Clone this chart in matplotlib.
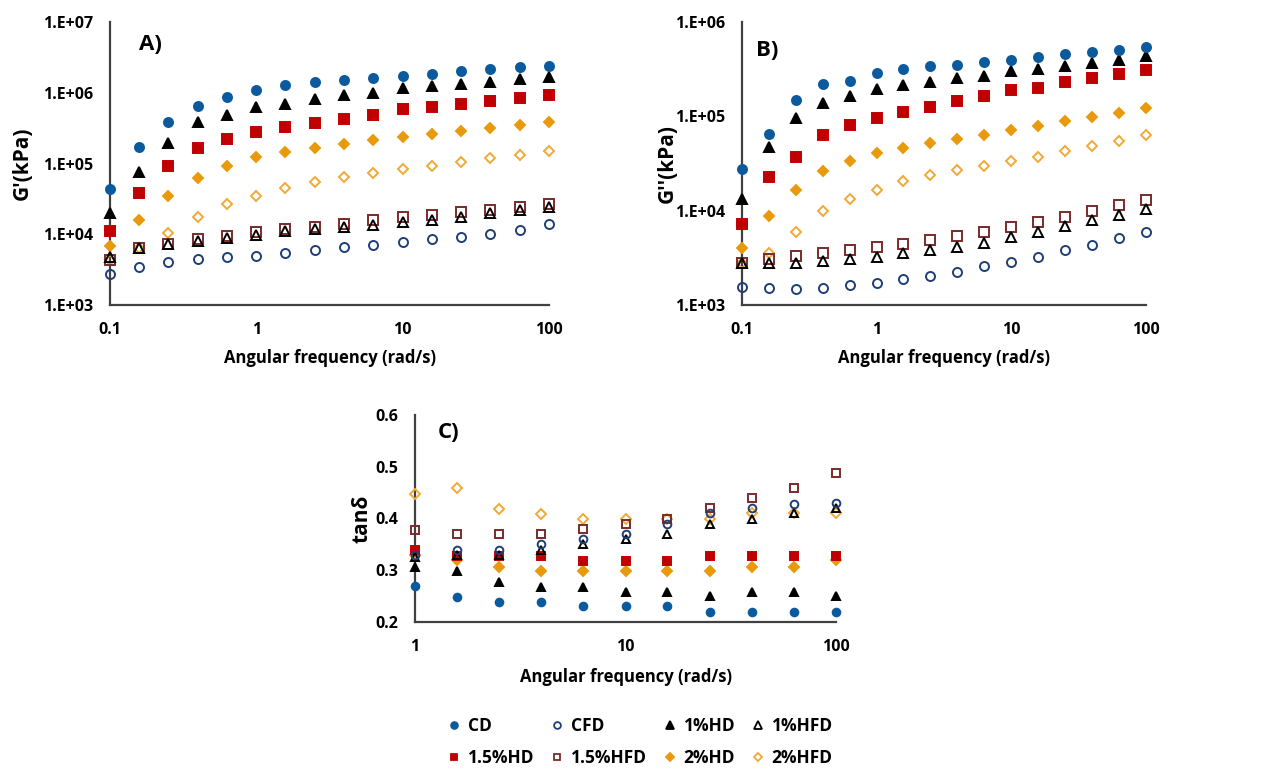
import matplotlib
matplotlib.use("Agg")
import matplotlib.pyplot as plt
from matplotlib.lines import Line2D

plt.rcParams['font.family'] = ['Open Sans', 'DejaVu Sans']
plt.rcParams['font.weight'] = 'bold'

# angular frequency (rad/s)
freq = [0.1, 0.158, 0.251, 0.398, 0.631, 1, 1.58, 2.51, 3.98, 6.31,
        10, 15.8, 25.1, 39.8, 63.1, 100]
freq_c = [1, 1.58, 2.51, 3.98, 6.31, 10, 15.8, 25.1, 39.8, 63.1, 100]

# A) G' (kPa)
g1_cd = [4.3e4, 1.7e5, 3.9e5, 6.4e5, 8.7e5, 1.08e6, 1.29e6, 1.42e6, 1.49e6, 1.62e6,
         1.75e6, 1.84e6, 2.03e6, 2.19e6, 2.29e6, 2.42e6]
g1_cfd = [2.7e3, 3.5e3, 4.0e3, 4.4e3, 4.8e3, 5.0e3, 5.4e3, 5.9e3, 6.5e3, 7.0e3,
          7.7e3, 8.5e3, 9.2e3, 1.0e4, 1.15e4, 1.38e4]
g1_hd1 = [1.97e4, 7.7e4, 1.96e5, 3.8e5, 4.9e5, 6.2e5, 6.96e5, 8.1e5, 9.4e5, 9.95e5,
          1.16e6, 1.24e6, 1.35e6, 1.44e6, 1.55e6, 1.67e6]
g1_hfd1 = [4.8e3, 6.3e3, 7.2e3, 8.1e3, 8.9e3, 9.8e3, 1.1e4, 1.17e4, 1.28e4, 1.35e4,
           1.5e4, 1.58e4, 1.73e4, 1.97e4, 2.2e4, 2.44e4]
g1_hd15 = [1.12e4, 3.77e4, 9.2e4, 1.63e5, 2.23e5, 2.77e5, 3.3e5, 3.75e5, 4.3e5, 4.86e5,
           5.9e5, 6.2e5, 6.96e5, 7.7e5, 8.4e5, 9.4e5]
g1_hfd15 = [4.3e3, 6.3e3, 7.4e3, 8.5e3, 9.5e3, 1.08e4, 1.2e4, 1.28e4, 1.41e4, 1.57e4,
            1.73e4, 1.87e4, 2.06e4, 2.22e4, 2.44e4, 2.64e4]
g1_hd2 = [6.9e3, 1.58e4, 3.5e4, 6.2e4, 9.3e4, 1.22e5, 1.45e5, 1.68e5, 1.9e5, 2.16e5,
          2.38e5, 2.59e5, 2.92e5, 3.2e5, 3.5e5, 3.8e5]
g1_hfd2 = [4.3e3, 6.3e3, 1.03e4, 1.73e4, 2.7e4, 3.5e4, 4.5e4, 5.4e4, 6.4e4, 7.3e4,
           8.4e4, 9.3e4, 1.04e5, 1.2e5, 1.31e5, 1.49e5]

# B) G'' (kPa)
g2_cd = [2.75e4, 6.5e4, 1.49e5, 2.2e5, 2.37e5, 2.9e5, 3.2e5, 3.42e5, 3.53e5, 3.77e5,
         4.0e5, 4.3e5, 4.6e5, 4.8e5, 5.1e5, 5.4e5]
g2_cfd = [1.56e3, 1.51e3, 1.47e3, 1.51e3, 1.61e3, 1.72e3, 1.9e3, 2.03e3, 2.23e3, 2.56e3,
          2.83e3, 3.22e3, 3.79e3, 4.32e3, 5.12e3, 6.0e3]
g2_hd1 = [1.32e4, 4.7e4, 9.5e4, 1.39e5, 1.64e5, 1.95e5, 2.15e5, 2.32e5, 2.53e5, 2.7e5,
          3.0e5, 3.2e5, 3.42e5, 3.68e5, 3.93e5, 4.33e5]
g2_hfd1 = [2.76e3, 2.8e3, 2.76e3, 2.9e3, 3.04e3, 3.25e3, 3.52e3, 3.79e3, 4.14e3, 4.57e3,
           5.29e3, 6.0e3, 6.86e3, 7.9e3, 8.97e3, 1.05e4]
g2_hd15 = [7.3e3, 2.27e4, 3.7e4, 6.4e4, 8.0e4, 9.7e4, 1.1e5, 1.27e5, 1.44e5, 1.64e5,
           1.89e5, 2.02e5, 2.32e5, 2.53e5, 2.8e5, 3.1e5]
g2_hfd15 = [2.76e3, 3.04e3, 3.33e3, 3.58e3, 3.82e3, 4.07e3, 4.46e3, 4.87e3, 5.33e3, 5.87e3,
            6.7e3, 7.6e3, 8.5e3, 1.0e4, 1.15e4, 1.29e4]
g2_hd2 = [3.98e3, 8.75e3, 1.65e4, 2.62e4, 3.4e4, 4.04e4, 4.6e4, 5.2e4, 5.8e4, 6.4e4,
          7.1e4, 7.9e4, 8.95e4, 9.9e4, 1.09e5, 1.24e5]
g2_hfd2 = [2.76e3, 3.6e3, 5.9e3, 1.0e4, 1.34e4, 1.64e4, 2.05e4, 2.36e4, 2.69e4, 2.96e4,
           3.37e4, 3.75e4, 4.27e4, 4.86e4, 5.5e4, 6.3e4]

# C) tan delta
tan_cd = [0.27, 0.248, 0.239, 0.238, 0.23, 0.23, 0.23, 0.22, 0.22, 0.22, 0.22]
tan_cfd = [0.33, 0.34, 0.34, 0.35, 0.36, 0.37, 0.39, 0.41, 0.42, 0.428, 0.429]
tan_hd1 = [0.306, 0.299, 0.278, 0.268, 0.267, 0.258, 0.258, 0.25, 0.258, 0.258, 0.25]
tan_hfd1 = [0.326, 0.33, 0.33, 0.34, 0.35, 0.36, 0.37, 0.39, 0.40, 0.41, 0.42]
tan_hd15 = [0.339, 0.328, 0.328, 0.328, 0.317, 0.317, 0.317, 0.328, 0.328, 0.328, 0.328]
tan_hfd15 = [0.378, 0.37, 0.37, 0.37, 0.379, 0.389, 0.40, 0.42, 0.439, 0.459, 0.488]
tan_hd2 = [0.329, 0.319, 0.307, 0.299, 0.299, 0.299, 0.299, 0.299, 0.307, 0.307, 0.319]
tan_hfd2 = [0.448, 0.459, 0.419, 0.409, 0.399, 0.40, 0.40, 0.40, 0.41, 0.41, 0.41]

names = ['CD', 'CFD', '1%HD', '1%HFD', '1.5%HD', '1.5%HFD', '2%HD', '2%HFD']

BLUE = '#0b5a9e'
NAVY = '#1f3f78'
RED = '#c00000'
BROWN = '#7a2b2b'
ORANGE = '#e89a0c'
LORANGE = '#f0aa35'

# marker, face, edge
styles = {
    'CD': ('o', BLUE, BLUE),
    'CFD': ('o', 'none', NAVY),
    '1%HD': ('^', 'black', 'black'),
    '1%HFD': ('^', 'none', 'black'),
    '1.5%HD': ('s', RED, RED),
    '1.5%HFD': ('s', 'none', BROWN),
    '2%HD': ('D', ORANGE, ORANGE),
    '2%HFD': ('D', 'none', LORANGE),
}
draw_order = ['2%HFD', '2%HD', '1.5%HFD', '1.5%HD', '1%HFD', '1%HD', 'CFD', 'CD']
msize = {'o': 6.5, '^': 7, 's': 6.5, 'D': 5.5}


def plot_panel(ax, x, series, ms_scale=1.0):
    for nm in draw_order:
        m, fc, ec = styles[nm]
        ax.plot(x, series[nm], linestyle='none', marker=m, markersize=msize[m] * ms_scale,
                markerfacecolor=fc, markeredgecolor=ec, markeredgewidth=1.4,
                clip_on=False, zorder=3)


def style_axes(ax):
    for s in ['top', 'right']:
        ax.spines[s].set_visible(False)
    for s in ['left', 'bottom']:
        ax.spines[s].set_color('#404040')
        ax.spines[s].set_linewidth(1.6)
    ax.tick_params(length=0, labelsize=11.5, pad=12)
    ax.minorticks_off()
    for lab in ax.get_xticklabels() + ax.get_yticklabels():
        lab.set_fontweight('bold')


fig = plt.figure(figsize=(12.7, 7.71), dpi=100)

xt = [0.1, 1, 10, 100]
xtl = ['0.1', '1', '10', '100']

# panel A
axA = fig.add_axes([110 / 1270, 1 - 305 / 771, 439 / 1270, 283 / 771])
plot_panel(axA, freq, dict(zip(names, [g1_cd, g1_cfd, g1_hd1, g1_hfd1,
                                         g1_hd15, g1_hfd15, g1_hd2, g1_hfd2])))
axA.set_xscale('log')
axA.set_yscale('log')
axA.set_xlim(0.1, 100)
axA.set_ylim(1e3, 1e7)
yt = [1e3, 1e4, 1e5, 1e6, 1e7]
axA.set_xticks(xt, xtl)
axA.set_yticks(yt, ['1.E+03', '1.E+04', '1.E+05', '1.E+06', '1.E+07'])
style_axes(axA)
axA.set_ylabel("G'(kPa)", fontsize=15, fontweight='bold')
axA.yaxis.set_label_coords(-0.175, 0.5)
axA.set_xlabel('Angular frequency (rad/s)', fontsize=12, fontweight='bold')
axA.xaxis.set_label_coords(0.5, -0.155)
axA.text(0.065, 0.92, 'A)', transform=axA.transAxes, fontsize=16, fontweight='bold',
         va='center', ha='left')

# panel B
axB = fig.add_axes([742 / 1270, 1 - 305 / 771, 404 / 1270, 283 / 771])
plot_panel(axB, freq, dict(zip(names, [g2_cd, g2_cfd, g2_hd1, g2_hfd1,
                                         g2_hd15, g2_hfd15, g2_hd2, g2_hfd2])))
axB.set_xscale('log')
axB.set_yscale('log')
axB.set_xlim(0.1, 100)
axB.set_ylim(1e3, 1e6)
axB.set_xticks(xt, xtl)
axB.set_yticks([1e3, 1e4, 1e5, 1e6], ['1.E+03', '1.E+04', '1.E+05', '1.E+06'])
style_axes(axB)
axB.set_ylabel("G''(kPa)", fontsize=15, fontweight='bold')
axB.yaxis.set_label_coords(-0.16, 0.5)
axB.set_xlabel('Angular frequency (rad/s)', fontsize=12, fontweight='bold')
axB.xaxis.set_label_coords(0.5, -0.155)
axB.text(0.035, 0.90, 'B)', transform=axB.transAxes, fontsize=16, fontweight='bold',
         va='center', ha='left')

# panel C
axC = fig.add_axes([415 / 1270, 1 - 622 / 771, 421 / 1270, 207 / 771])
plot_panel(axC, freq_c, dict(zip(names, [tan_cd, tan_cfd, tan_hd1, tan_hfd1,
                                           tan_hd15, tan_hfd15, tan_hd2, tan_hfd2])),
           ms_scale=0.85)
axC.set_xscale('log')
axC.set_xlim(1, 100)
axC.set_ylim(0.2, 0.6)
axC.set_xticks([1, 10, 100], ['1', '10', '100'])
axC.set_yticks([0.2, 0.3, 0.4, 0.5, 0.6], ['0.2', '0.3', '0.4', '0.5', '0.6'])
style_axes(axC)
axC.set_ylabel('tanδ', fontsize=15, fontweight='bold')
axC.yaxis.set_label_coords(-0.10, 0.5)
axC.set_xlabel('Angular frequency (rad/s)', fontsize=12, fontweight='bold')
axC.xaxis.set_label_coords(0.5, -0.22)
axC.text(0.055, 0.915, 'C)', transform=axC.transAxes, fontsize=16, fontweight='bold',
         va='center', ha='left')

# legend: two rows of four
handles = {}
for nm in names:
    m, fc, ec = styles[nm]
    handles[nm] = Line2D([], [], linestyle='none', marker=m, markersize=msize[m] * 0.75,
                         markerfacecolor=fc, markeredgecolor=ec, markeredgewidth=1.3)
order = ['CD', '1.5%HD', 'CFD', '1.5%HFD', '1%HD', '2%HD', '1%HFD', '2%HFD']
fig.legend([handles[n] for n in order], order, ncol=4, frameon=False,
           loc='center', bbox_to_anchor=(640 / 1270, 1 - 742 / 771),
           prop={'size': 12.5, 'weight': 'bold'}, handlelength=0.8,
           handletextpad=0.4, columnspacing=0.9, labelspacing=0.8)

fig.savefig('out.png', dpi=100)
